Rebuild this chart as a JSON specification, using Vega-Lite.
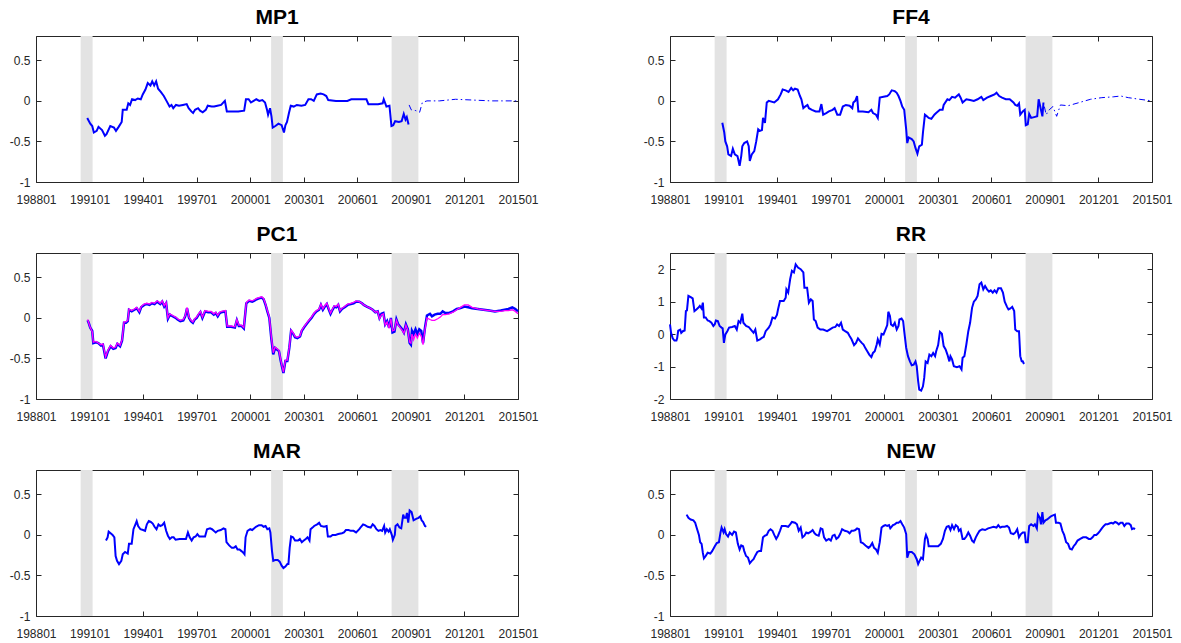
{
  "$schema": "https://vega.github.io/schema/vega-lite/v6.json",
  "background": "white",
  "padding": {"left": 8, "top": 6, "right": 0, "bottom": 0},
  "config": {
    "view": {"stroke": "#262626", "strokeWidth": 1},
    "font": "Liberation Sans",
    "axis": {"domain": false, "grid": false, "tickColor": "#262626", "tickSize": -5, "tickWidth": 1, "labelColor": "#262626", "labelFontSize": 12, "labelFont": "Liberation Sans", "zindex": 1},
    "title": {"fontSize": 21, "fontWeight": "bold", "font": "Liberation Sans", "color": "#000000", "baseline": "alphabetic", "offset": 8, "frame": "group"}
  },
  "datasets": {
    "rec": [{"a": 1990.5, "b": 1991.17}, {"a": 2001.17, "b": 2001.83}, {"a": 2007.92, "b": 2009.42}],
    "MP1": [
      {"t":1990.87,"v":-0.21,"s":"m"},{"t":1991.04,"v":-0.28,"s":"m"},{"t":1991.15,"v":-0.31,"s":"m"},{"t":1991.24,"v":-0.39,"s":"m"},{"t":1991.4,"v":-0.37,"s":"m"},{"t":1991.5,"v":-0.32,"s":"m"},{"t":1991.7,"v":-0.36,"s":"m"},{"t":1991.86,"v":-0.43,"s":"m"},{"t":1991.95,"v":-0.41,"s":"m"},{"t":1992.16,"v":-0.31,"s":"m"},{"t":1992.37,"v":-0.33,"s":"m"},{"t":1992.48,"v":-0.37,"s":"m"},{"t":1992.63,"v":-0.32,"s":"m"},{"t":1992.8,"v":-0.26,"s":"m"},{"t":1992.86,"v":-0.11,"s":"m"},{"t":1993.08,"v":-0.11,"s":"m"},{"t":1993.17,"v":-0.03,"s":"m"},{"t":1993.27,"v":-0.05,"s":"m"},{"t":1993.38,"v":0.02,"s":"m"},{"t":1993.55,"v":0.01,"s":"m"},{"t":1993.7,"v":0.03,"s":"m"},{"t":1993.87,"v":0.02,"s":"m"},{"t":1993.98,"v":0.08,"s":"m"},{"t":1994.13,"v":0.14,"s":"m"},{"t":1994.26,"v":0.22,"s":"m"},{"t":1994.41,"v":0.19,"s":"m"},{"t":1994.51,"v":0.24,"s":"m"},{"t":1994.62,"v":0.19,"s":"m"},{"t":1994.73,"v":0.24,"s":"m"},{"t":1994.84,"v":0.15,"s":"m"},{"t":1994.99,"v":0.11,"s":"m"},{"t":1995.16,"v":0.06,"s":"m"},{"t":1995.31,"v":0.0,"s":"m"},{"t":1995.48,"v":-0.07,"s":"m"},{"t":1995.59,"v":-0.05,"s":"m"},{"t":1995.69,"v":-0.09,"s":"m"},{"t":1995.84,"v":-0.05,"s":"m"},{"t":1996.01,"v":-0.06,"s":"m"},{"t":1996.23,"v":-0.05,"s":"m"},{"t":1996.44,"v":-0.04,"s":"m"},{"t":1996.55,"v":-0.09,"s":"m"},{"t":1996.7,"v":-0.13,"s":"m"},{"t":1996.8,"v":-0.15,"s":"m"},{"t":1996.91,"v":-0.11,"s":"m"},{"t":1997.08,"v":-0.09,"s":"m"},{"t":1997.19,"v":-0.12,"s":"m"},{"t":1997.34,"v":-0.14,"s":"m"},{"t":1997.51,"v":-0.11,"s":"m"},{"t":1997.62,"v":-0.06,"s":"m"},{"t":1997.84,"v":-0.07,"s":"m"},{"t":1997.98,"v":-0.07,"s":"m"},{"t":1998.16,"v":-0.06,"s":"m"},{"t":1998.37,"v":-0.05,"s":"m"},{"t":1998.58,"v":0.0,"s":"m"},{"t":1998.69,"v":-0.13,"s":"m"},{"t":1999.01,"v":-0.13,"s":"m"},{"t":1999.33,"v":-0.13,"s":"m"},{"t":1999.66,"v":-0.12,"s":"m"},{"t":1999.76,"v":0.02,"s":"m"},{"t":1999.91,"v":0.02,"s":"m"},{"t":2000.04,"v":-0.02,"s":"m"},{"t":2000.19,"v":0.0,"s":"m"},{"t":2000.34,"v":0.02,"s":"m"},{"t":2000.51,"v":0.0,"s":"m"},{"t":2000.68,"v":0.01,"s":"m"},{"t":2000.83,"v":-0.02,"s":"m"},{"t":2000.94,"v":-0.11,"s":"m"},{"t":2001.0,"v":-0.17,"s":"m"},{"t":2001.11,"v":-0.09,"s":"m"},{"t":2001.19,"v":-0.19,"s":"m"},{"t":2001.26,"v":-0.33,"s":"m"},{"t":2001.41,"v":-0.31,"s":"m"},{"t":2001.58,"v":-0.28,"s":"m"},{"t":2001.76,"v":-0.3,"s":"m"},{"t":2001.89,"v":-0.39,"s":"m"},{"t":2001.97,"v":-0.3,"s":"m"},{"t":2002.06,"v":-0.26,"s":"m"},{"t":2002.17,"v":-0.15,"s":"m"},{"t":2002.27,"v":-0.06,"s":"m"},{"t":2002.44,"v":-0.07,"s":"m"},{"t":2002.61,"v":-0.05,"s":"m"},{"t":2002.87,"v":-0.06,"s":"m"},{"t":2003.08,"v":-0.05,"s":"m"},{"t":2003.26,"v":0.02,"s":"m"},{"t":2003.41,"v":0.02,"s":"m"},{"t":2003.56,"v":0.0,"s":"m"},{"t":2003.73,"v":0.08,"s":"m"},{"t":2003.94,"v":0.09,"s":"m"},{"t":2004.11,"v":0.08,"s":"m"},{"t":2004.26,"v":0.06,"s":"m"},{"t":2004.37,"v":0.01,"s":"m"},{"t":2004.8,"v":0.0,"s":"m"},{"t":2005.44,"v":0.0,"s":"m"},{"t":2005.66,"v":0.02,"s":"m"},{"t":2006.51,"v":0.02,"s":"m"},{"t":2006.62,"v":-0.04,"s":"m"},{"t":2007.16,"v":-0.04,"s":"m"},{"t":2007.42,"v":-0.03,"s":"m"},{"t":2007.48,"v":0.02,"s":"m"},{"t":2007.63,"v":-0.07,"s":"m"},{"t":2007.8,"v":-0.06,"s":"m"},{"t":2007.91,"v":-0.31,"s":"m"},{"t":2008.01,"v":-0.3,"s":"m"},{"t":2008.12,"v":-0.25,"s":"m"},{"t":2008.33,"v":-0.26,"s":"m"},{"t":2008.48,"v":-0.25,"s":"m"},{"t":2008.6,"v":-0.16,"s":"m"},{"t":2008.7,"v":-0.23,"s":"m"},{"t":2008.77,"v":-0.2,"s":"m"},{"t":2008.87,"v":-0.29,"s":"m"},
      {"t":2008.9,"v":-0.05,"s":"d"},{"t":2009.02,"v":-0.11,"s":"d"},{"t":2009.28,"v":-0.12,"s":"d"},{"t":2009.49,"v":-0.14,"s":"d"},{"t":2009.64,"v":-0.02,"s":"d"},{"t":2009.9,"v":0.0,"s":"d"},{"t":2010.6,"v":0.0,"s":"d"},{"t":2011.5,"v":0.02,"s":"d"},{"t":2012.5,"v":0.01,"s":"d"},{"t":2013.5,"v":0.0,"s":"d"},{"t":2015.0,"v":0.0,"s":"d"}
    ],
    "FF4": [
      {"t":1990.93,"v":-0.27,"s":"m"},{"t":1991.04,"v":-0.39,"s":"m"},{"t":1991.1,"v":-0.5,"s":"m"},{"t":1991.2,"v":-0.56,"s":"m"},{"t":1991.27,"v":-0.66,"s":"m"},{"t":1991.42,"v":-0.68,"s":"m"},{"t":1991.52,"v":-0.59,"s":"m"},{"t":1991.63,"v":-0.66,"s":"m"},{"t":1991.78,"v":-0.68,"s":"m"},{"t":1991.9,"v":-0.8,"s":"m"},{"t":1991.99,"v":-0.68,"s":"m"},{"t":1992.05,"v":-0.56,"s":"m"},{"t":1992.16,"v":-0.52,"s":"m"},{"t":1992.32,"v":-0.5,"s":"m"},{"t":1992.41,"v":-0.56,"s":"m"},{"t":1992.47,"v":-0.74,"s":"m"},{"t":1992.58,"v":-0.66,"s":"m"},{"t":1992.72,"v":-0.62,"s":"m"},{"t":1992.83,"v":-0.5,"s":"m"},{"t":1992.94,"v":-0.35,"s":"m"},{"t":1993.04,"v":-0.37,"s":"m"},{"t":1993.15,"v":-0.36,"s":"m"},{"t":1993.21,"v":-0.21,"s":"m"},{"t":1993.32,"v":-0.27,"s":"m"},{"t":1993.42,"v":-0.02,"s":"m"},{"t":1993.53,"v":0.0,"s":"m"},{"t":1993.84,"v":-0.02,"s":"m"},{"t":1994.05,"v":0.02,"s":"m"},{"t":1994.2,"v":0.08,"s":"m"},{"t":1994.31,"v":0.14,"s":"m"},{"t":1994.48,"v":0.13,"s":"m"},{"t":1994.64,"v":0.11,"s":"m"},{"t":1994.79,"v":0.16,"s":"m"},{"t":1994.9,"v":0.13,"s":"m"},{"t":1995.0,"v":0.15,"s":"m"},{"t":1995.15,"v":0.14,"s":"m"},{"t":1995.28,"v":0.06,"s":"m"},{"t":1995.36,"v":0.02,"s":"m"},{"t":1995.47,"v":-0.09,"s":"m"},{"t":1995.57,"v":-0.07,"s":"m"},{"t":1995.7,"v":-0.05,"s":"m"},{"t":1995.78,"v":-0.09,"s":"m"},{"t":1995.95,"v":-0.11,"s":"m"},{"t":1996.16,"v":-0.13,"s":"m"},{"t":1996.37,"v":-0.13,"s":"m"},{"t":1996.48,"v":-0.04,"s":"m"},{"t":1996.58,"v":-0.17,"s":"m"},{"t":1996.75,"v":-0.15,"s":"m"},{"t":1996.9,"v":-0.13,"s":"m"},{"t":1997.11,"v":-0.11,"s":"m"},{"t":1997.22,"v":-0.09,"s":"m"},{"t":1997.37,"v":-0.17,"s":"m"},{"t":1997.53,"v":-0.17,"s":"m"},{"t":1997.68,"v":-0.07,"s":"m"},{"t":1997.85,"v":-0.05,"s":"m"},{"t":1998.06,"v":-0.06,"s":"m"},{"t":1998.21,"v":-0.09,"s":"m"},{"t":1998.27,"v":-0.02,"s":"m"},{"t":1998.38,"v":0.0,"s":"m"},{"t":1998.48,"v":0.06,"s":"m"},{"t":1998.55,"v":-0.13,"s":"m"},{"t":1998.8,"v":-0.13,"s":"m"},{"t":1999.12,"v":-0.14,"s":"m"},{"t":1999.28,"v":-0.11,"s":"m"},{"t":1999.37,"v":-0.15,"s":"m"},{"t":1999.54,"v":-0.17,"s":"m"},{"t":1999.64,"v":-0.21,"s":"m"},{"t":1999.75,"v":0.04,"s":"m"},{"t":1999.96,"v":0.05,"s":"m"},{"t":2000.17,"v":0.06,"s":"m"},{"t":2000.28,"v":0.08,"s":"m"},{"t":2000.42,"v":0.13,"s":"m"},{"t":2000.59,"v":0.12,"s":"m"},{"t":2000.7,"v":0.1,"s":"m"},{"t":2000.8,"v":0.06,"s":"m"},{"t":2000.91,"v":0.0,"s":"m"},{"t":2001.01,"v":-0.07,"s":"m"},{"t":2001.12,"v":-0.11,"s":"m"},{"t":2001.23,"v":-0.35,"s":"m"},{"t":2001.29,"v":-0.52,"s":"m"},{"t":2001.37,"v":-0.45,"s":"m"},{"t":2001.54,"v":-0.47,"s":"m"},{"t":2001.65,"v":-0.5,"s":"m"},{"t":2001.75,"v":-0.58,"s":"m"},{"t":2001.86,"v":-0.65,"s":"m"},{"t":2001.96,"v":-0.56,"s":"m"},{"t":2002.11,"v":-0.54,"s":"m"},{"t":2002.17,"v":-0.39,"s":"m"},{"t":2002.28,"v":-0.17,"s":"m"},{"t":2002.39,"v":-0.19,"s":"m"},{"t":2002.49,"v":-0.21,"s":"m"},{"t":2002.64,"v":-0.22,"s":"m"},{"t":2002.81,"v":-0.17,"s":"m"},{"t":2002.91,"v":-0.15,"s":"m"},{"t":2003.12,"v":-0.11,"s":"m"},{"t":2003.27,"v":-0.11,"s":"m"},{"t":2003.33,"v":-0.05,"s":"m"},{"t":2003.54,"v":0.02,"s":"m"},{"t":2003.65,"v":0.01,"s":"m"},{"t":2003.8,"v":0.05,"s":"m"},{"t":2003.97,"v":0.04,"s":"m"},{"t":2004.07,"v":0.06,"s":"m"},{"t":2004.18,"v":0.08,"s":"m"},{"t":2004.28,"v":0.04,"s":"m"},{"t":2004.39,"v":-0.02,"s":"m"},{"t":2004.6,"v":0.02,"s":"m"},{"t":2004.81,"v":0.01,"s":"m"},{"t":2005.02,"v":0.0,"s":"m"},{"t":2005.23,"v":0.02,"s":"m"},{"t":2005.44,"v":0.05,"s":"m"},{"t":2005.55,"v":0.01,"s":"m"},{"t":2005.76,"v":0.04,"s":"m"},{"t":2005.97,"v":0.06,"s":"m"},{"t":2006.18,"v":0.08,"s":"m"},{"t":2006.29,"v":0.1,"s":"m"},{"t":2006.44,"v":0.06,"s":"m"},{"t":2006.6,"v":0.04,"s":"m"},{"t":2006.81,"v":0.02,"s":"m"},{"t":2007.03,"v":0.02,"s":"m"},{"t":2007.24,"v":-0.02,"s":"m"},{"t":2007.34,"v":-0.05,"s":"m"},{"t":2007.45,"v":-0.06,"s":"m"},{"t":2007.55,"v":-0.03,"s":"m"},{"t":2007.62,"v":-0.17,"s":"m"},{"t":2007.76,"v":-0.13,"s":"m"},{"t":2007.87,"v":-0.11,"s":"m"},{"t":2007.93,"v":-0.3,"s":"m"},{"t":2008.04,"v":-0.29,"s":"m"},{"t":2008.12,"v":-0.16,"s":"m"},{"t":2008.23,"v":-0.21,"s":"m"},{"t":2008.4,"v":-0.2,"s":"m"},{"t":2008.57,"v":-0.19,"s":"m"},{"t":2008.65,"v":0.02,"s":"m"},{"t":2008.78,"v":-0.11,"s":"m"},{"t":2008.86,"v":-0.19,"s":"m"},{"t":2008.92,"v":-0.02,"s":"m"},
      {"t":2008.97,"v":-0.07,"s":"d"},{"t":2009.07,"v":-0.17,"s":"d"},{"t":2009.24,"v":-0.11,"s":"d"},{"t":2009.45,"v":-0.07,"s":"d"},{"t":2009.66,"v":-0.19,"s":"d"},{"t":2009.87,"v":-0.05,"s":"d"},{"t":2010.3,"v":-0.06,"s":"d"},{"t":2010.93,"v":-0.02,"s":"d"},{"t":2011.56,"v":0.02,"s":"d"},{"t":2012.19,"v":0.04,"s":"d"},{"t":2012.83,"v":0.05,"s":"d"},{"t":2013.25,"v":0.06,"s":"d"},{"t":2013.67,"v":0.04,"s":"d"},{"t":2014.3,"v":0.02,"s":"d"},{"t":2015.0,"v":0.0,"s":"d"}
    ],
    "PC1": [
      {"t":1990.89,"v":-0.03,"s":"b"},{"t":1990.95,"v":-0.06,"s":"b"},{"t":1991.04,"v":-0.12,"s":"b"},{"t":1991.15,"v":-0.16,"s":"b"},{"t":1991.21,"v":-0.31,"s":"b"},{"t":1991.36,"v":-0.3,"s":"b"},{"t":1991.49,"v":-0.31,"s":"b"},{"t":1991.64,"v":-0.34,"s":"b"},{"t":1991.75,"v":-0.33,"s":"b"},{"t":1991.9,"v":-0.5,"s":"b"},{"t":1992.03,"v":-0.41,"s":"b"},{"t":1992.18,"v":-0.35,"s":"b"},{"t":1992.33,"v":-0.38,"s":"b"},{"t":1992.46,"v":-0.37,"s":"b"},{"t":1992.56,"v":-0.32,"s":"b"},{"t":1992.71,"v":-0.35,"s":"b"},{"t":1992.82,"v":-0.28,"s":"b"},{"t":1992.93,"v":-0.06,"s":"b"},{"t":1993.04,"v":-0.06,"s":"b"},{"t":1993.14,"v":-0.04,"s":"b"},{"t":1993.21,"v":0.1,"s":"b"},{"t":1993.36,"v":0.08,"s":"b"},{"t":1993.51,"v":0.1,"s":"b"},{"t":1993.64,"v":0.12,"s":"b"},{"t":1993.79,"v":0.07,"s":"b"},{"t":1993.89,"v":0.13,"s":"b"},{"t":1994.06,"v":0.16,"s":"b"},{"t":1994.21,"v":0.17,"s":"b"},{"t":1994.36,"v":0.16,"s":"b"},{"t":1994.49,"v":0.18,"s":"b"},{"t":1994.64,"v":0.17,"s":"b"},{"t":1994.79,"v":0.2,"s":"b"},{"t":1994.96,"v":0.17,"s":"b"},{"t":1995.07,"v":0.2,"s":"b"},{"t":1995.18,"v":0.14,"s":"b"},{"t":1995.29,"v":0.18,"s":"b"},{"t":1995.39,"v":-0.01,"s":"b"},{"t":1995.5,"v":0.04,"s":"b"},{"t":1995.65,"v":0.02,"s":"b"},{"t":1995.82,"v":0.0,"s":"b"},{"t":1995.93,"v":-0.02,"s":"b"},{"t":1996.08,"v":-0.04,"s":"b"},{"t":1996.25,"v":-0.03,"s":"b"},{"t":1996.36,"v":0.02,"s":"b"},{"t":1996.46,"v":0.12,"s":"b"},{"t":1996.57,"v":0.0,"s":"b"},{"t":1996.68,"v":-0.04,"s":"b"},{"t":1996.79,"v":-0.06,"s":"b"},{"t":1996.89,"v":-0.02,"s":"b"},{"t":1997.0,"v":0.0,"s":"b"},{"t":1997.11,"v":0.04,"s":"b"},{"t":1997.21,"v":0.07,"s":"b"},{"t":1997.32,"v":0.0,"s":"b"},{"t":1997.47,"v":0.08,"s":"b"},{"t":1997.64,"v":0.07,"s":"b"},{"t":1997.81,"v":0.07,"s":"b"},{"t":1997.96,"v":0.04,"s":"b"},{"t":1998.07,"v":0.06,"s":"b"},{"t":1998.18,"v":0.02,"s":"b"},{"t":1998.29,"v":0.06,"s":"b"},{"t":1998.39,"v":0.07,"s":"b"},{"t":1998.61,"v":0.08,"s":"b"},{"t":1998.71,"v":-0.11,"s":"b"},{"t":1998.93,"v":-0.11,"s":"b"},{"t":1999.14,"v":-0.12,"s":"b"},{"t":1999.25,"v":-0.03,"s":"b"},{"t":1999.36,"v":-0.1,"s":"b"},{"t":1999.51,"v":-0.1,"s":"b"},{"t":1999.64,"v":-0.13,"s":"b"},{"t":1999.78,"v":0.18,"s":"b"},{"t":1999.94,"v":0.21,"s":"b"},{"t":2000.11,"v":0.2,"s":"b"},{"t":2000.21,"v":0.21,"s":"b"},{"t":2000.36,"v":0.23,"s":"b"},{"t":2000.49,"v":0.24,"s":"b"},{"t":2000.64,"v":0.25,"s":"b"},{"t":2000.75,"v":0.23,"s":"b"},{"t":2000.86,"v":0.16,"s":"b"},{"t":2000.96,"v":0.08,"s":"b"},{"t":2001.07,"v":0.0,"s":"b"},{"t":2001.18,"v":-0.25,"s":"b"},{"t":2001.29,"v":-0.45,"s":"b"},{"t":2001.39,"v":-0.37,"s":"b"},{"t":2001.5,"v":-0.39,"s":"b"},{"t":2001.61,"v":-0.41,"s":"b"},{"t":2001.71,"v":-0.53,"s":"b"},{"t":2001.86,"v":-0.68,"s":"b"},{"t":2001.97,"v":-0.53,"s":"b"},{"t":2002.08,"v":-0.53,"s":"b"},{"t":2002.19,"v":-0.37,"s":"b"},{"t":2002.29,"v":-0.16,"s":"b"},{"t":2002.42,"v":-0.2,"s":"b"},{"t":2002.51,"v":-0.24,"s":"b"},{"t":2002.64,"v":-0.25,"s":"b"},{"t":2002.79,"v":-0.23,"s":"b"},{"t":2002.89,"v":-0.16,"s":"b"},{"t":2003.04,"v":-0.11,"s":"b"},{"t":2003.21,"v":-0.06,"s":"b"},{"t":2003.32,"v":-0.03,"s":"b"},{"t":2003.43,"v":0.0,"s":"b"},{"t":2003.58,"v":0.05,"s":"b"},{"t":2003.71,"v":0.08,"s":"b"},{"t":2003.86,"v":0.1,"s":"b"},{"t":2003.96,"v":0.16,"s":"b"},{"t":2004.07,"v":0.1,"s":"b"},{"t":2004.18,"v":0.14,"s":"b"},{"t":2004.29,"v":0.17,"s":"b"},{"t":2004.39,"v":0.11,"s":"b"},{"t":2004.5,"v":0.05,"s":"b"},{"t":2004.61,"v":0.1,"s":"b"},{"t":2004.71,"v":0.14,"s":"b"},{"t":2004.82,"v":0.13,"s":"b"},{"t":2004.93,"v":0.16,"s":"b"},{"t":2005.03,"v":0.08,"s":"b"},{"t":2005.14,"v":0.11,"s":"b"},{"t":2005.29,"v":0.13,"s":"b"},{"t":2005.46,"v":0.16,"s":"b"},{"t":2005.63,"v":0.17,"s":"b"},{"t":2005.79,"v":0.18,"s":"b"},{"t":2005.93,"v":0.2,"s":"b"},{"t":2006.11,"v":0.2,"s":"b"},{"t":2006.26,"v":0.18,"s":"b"},{"t":2006.36,"v":0.16,"s":"b"},{"t":2006.53,"v":0.14,"s":"b"},{"t":2006.71,"v":0.12,"s":"b"},{"t":2006.86,"v":0.1,"s":"b"},{"t":2007.01,"v":0.07,"s":"b"},{"t":2007.14,"v":0.08,"s":"b"},{"t":2007.24,"v":0.0,"s":"b"},{"t":2007.35,"v":0.05,"s":"b"},{"t":2007.46,"v":0.06,"s":"b"},{"t":2007.56,"v":-0.08,"s":"b"},{"t":2007.67,"v":-0.04,"s":"b"},{"t":2007.78,"v":-0.12,"s":"b"},{"t":2007.88,"v":0.0,"s":"b"},{"t":2007.97,"v":-0.18,"s":"b"},{"t":2008.08,"v":-0.17,"s":"b"},{"t":2008.19,"v":-0.02,"s":"b"},{"t":2008.29,"v":-0.08,"s":"b"},{"t":2008.4,"v":-0.11,"s":"b"},{"t":2008.51,"v":-0.14,"s":"b"},{"t":2008.61,"v":-0.18,"s":"b"},{"t":2008.72,"v":-0.08,"s":"b"},{"t":2008.83,"v":-0.14,"s":"b"},{"t":2008.93,"v":-0.31,"s":"b"},{"t":2009.0,"v":-0.33,"s":"b"},{"t":2009.06,"v":-0.16,"s":"b"},{"t":2009.15,"v":-0.2,"s":"b"},{"t":2009.26,"v":-0.14,"s":"b"},{"t":2009.36,"v":-0.2,"s":"b"},{"t":2009.47,"v":-0.14,"s":"b"},{"t":2009.58,"v":-0.16,"s":"b"},{"t":2009.68,"v":-0.31,"s":"b"},{"t":2009.79,"v":-0.12,"s":"b"},{"t":2009.9,"v":0.03,"s":"b"},{"t":2010.07,"v":0.05,"s":"b"},{"t":2010.18,"v":0.02,"s":"b"},{"t":2010.33,"v":0.04,"s":"b"},{"t":2010.5,"v":0.05,"s":"b"},{"t":2010.65,"v":0.05,"s":"b"},{"t":2010.78,"v":0.08,"s":"b"},{"t":2010.93,"v":0.06,"s":"b"},{"t":2011.14,"v":0.06,"s":"b"},{"t":2011.36,"v":0.08,"s":"b"},{"t":2011.57,"v":0.11,"s":"b"},{"t":2011.78,"v":0.12,"s":"b"},{"t":2012.0,"v":0.14,"s":"b"},{"t":2012.21,"v":0.13,"s":"b"},{"t":2012.43,"v":0.12,"s":"b"},{"t":2012.75,"v":0.11,"s":"b"},{"t":2013.07,"v":0.1,"s":"b"},{"t":2013.39,"v":0.09,"s":"b"},{"t":2013.71,"v":0.08,"s":"b"},{"t":2014.03,"v":0.09,"s":"b"},{"t":2014.25,"v":0.1,"s":"b"},{"t":2014.46,"v":0.11,"s":"b"},{"t":2014.68,"v":0.13,"s":"b"},{"t":2014.85,"v":0.11,"s":"b"},{"t":2015.0,"v":0.08,"s":"b"},
      {"t":1990.89,"v":-0.02,"s":"p"},{"t":1990.95,"v":-0.06,"s":"p"},{"t":1991.04,"v":-0.12,"s":"p"},{"t":1991.15,"v":-0.17,"s":"p"},{"t":1991.21,"v":-0.3,"s":"p"},{"t":1991.36,"v":-0.29,"s":"p"},{"t":1991.49,"v":-0.31,"s":"p"},{"t":1991.64,"v":-0.33,"s":"p"},{"t":1991.75,"v":-0.32,"s":"p"},{"t":1991.9,"v":-0.48,"s":"p"},{"t":1992.03,"v":-0.4,"s":"p"},{"t":1992.18,"v":-0.34,"s":"p"},{"t":1992.33,"v":-0.37,"s":"p"},{"t":1992.46,"v":-0.36,"s":"p"},{"t":1992.56,"v":-0.31,"s":"p"},{"t":1992.71,"v":-0.34,"s":"p"},{"t":1992.82,"v":-0.27,"s":"p"},{"t":1992.93,"v":-0.05,"s":"p"},{"t":1993.04,"v":-0.05,"s":"p"},{"t":1993.14,"v":-0.03,"s":"p"},{"t":1993.21,"v":0.11,"s":"p"},{"t":1993.36,"v":0.09,"s":"p"},{"t":1993.51,"v":0.11,"s":"p"},{"t":1993.64,"v":0.13,"s":"p"},{"t":1993.79,"v":0.08,"s":"p"},{"t":1993.89,"v":0.14,"s":"p"},{"t":1994.06,"v":0.17,"s":"p"},{"t":1994.21,"v":0.18,"s":"p"},{"t":1994.36,"v":0.17,"s":"p"},{"t":1994.49,"v":0.19,"s":"p"},{"t":1994.64,"v":0.18,"s":"p"},{"t":1994.79,"v":0.21,"s":"p"},{"t":1994.96,"v":0.18,"s":"p"},{"t":1995.07,"v":0.21,"s":"p"},{"t":1995.18,"v":0.15,"s":"p"},{"t":1995.29,"v":0.19,"s":"p"},{"t":1995.39,"v":0.0,"s":"p"},{"t":1995.5,"v":0.05,"s":"p"},{"t":1995.65,"v":0.03,"s":"p"},{"t":1995.82,"v":0.01,"s":"p"},{"t":1995.93,"v":-0.01,"s":"p"},{"t":1996.08,"v":-0.03,"s":"p"},{"t":1996.25,"v":-0.02,"s":"p"},{"t":1996.36,"v":0.03,"s":"p"},{"t":1996.46,"v":0.13,"s":"p"},{"t":1996.57,"v":0.01,"s":"p"},{"t":1996.68,"v":-0.03,"s":"p"},{"t":1996.79,"v":-0.05,"s":"p"},{"t":1996.89,"v":-0.01,"s":"p"},{"t":1997.0,"v":0.01,"s":"p"},{"t":1997.11,"v":0.05,"s":"p"},{"t":1997.21,"v":0.08,"s":"p"},{"t":1997.32,"v":0.01,"s":"p"},{"t":1997.47,"v":0.09,"s":"p"},{"t":1997.64,"v":0.08,"s":"p"},{"t":1997.81,"v":0.08,"s":"p"},{"t":1997.96,"v":0.05,"s":"p"},{"t":1998.07,"v":0.07,"s":"p"},{"t":1998.18,"v":0.03,"s":"p"},{"t":1998.29,"v":0.07,"s":"p"},{"t":1998.39,"v":0.08,"s":"p"},{"t":1998.61,"v":0.09,"s":"p"},{"t":1998.71,"v":-0.1,"s":"p"},{"t":1998.93,"v":-0.1,"s":"p"},{"t":1999.14,"v":-0.11,"s":"p"},{"t":1999.25,"v":-0.02,"s":"p"},{"t":1999.36,"v":-0.09,"s":"p"},{"t":1999.51,"v":-0.09,"s":"p"},{"t":1999.64,"v":-0.12,"s":"p"},{"t":1999.78,"v":0.19,"s":"p"},{"t":1999.94,"v":0.22,"s":"p"},{"t":2000.11,"v":0.21,"s":"p"},{"t":2000.21,"v":0.22,"s":"p"},{"t":2000.36,"v":0.24,"s":"p"},{"t":2000.49,"v":0.25,"s":"p"},{"t":2000.64,"v":0.26,"s":"p"},{"t":2000.75,"v":0.24,"s":"p"},{"t":2000.86,"v":0.17,"s":"p"},{"t":2000.96,"v":0.09,"s":"p"},{"t":2001.07,"v":0.01,"s":"p"},{"t":2001.18,"v":-0.23,"s":"p"},{"t":2001.29,"v":-0.43,"s":"p"},{"t":2001.39,"v":-0.36,"s":"p"},{"t":2001.5,"v":-0.38,"s":"p"},{"t":2001.61,"v":-0.4,"s":"p"},{"t":2001.71,"v":-0.52,"s":"p"},{"t":2001.86,"v":-0.67,"s":"p"},{"t":2001.97,"v":-0.52,"s":"p"},{"t":2002.08,"v":-0.52,"s":"p"},{"t":2002.19,"v":-0.36,"s":"p"},{"t":2002.29,"v":-0.15,"s":"p"},{"t":2002.42,"v":-0.19,"s":"p"},{"t":2002.51,"v":-0.23,"s":"p"},{"t":2002.64,"v":-0.24,"s":"p"},{"t":2002.79,"v":-0.22,"s":"p"},{"t":2002.89,"v":-0.15,"s":"p"},{"t":2003.04,"v":-0.1,"s":"p"},{"t":2003.21,"v":-0.05,"s":"p"},{"t":2003.32,"v":-0.02,"s":"p"},{"t":2003.43,"v":0.01,"s":"p"},{"t":2003.58,"v":0.06,"s":"p"},{"t":2003.71,"v":0.09,"s":"p"},{"t":2003.86,"v":0.11,"s":"p"},{"t":2003.96,"v":0.17,"s":"p"},{"t":2004.07,"v":0.11,"s":"p"},{"t":2004.18,"v":0.15,"s":"p"},{"t":2004.29,"v":0.18,"s":"p"},{"t":2004.39,"v":0.12,"s":"p"},{"t":2004.5,"v":0.06,"s":"p"},{"t":2004.61,"v":0.11,"s":"p"},{"t":2004.71,"v":0.15,"s":"p"},{"t":2004.82,"v":0.14,"s":"p"},{"t":2004.93,"v":0.17,"s":"p"},{"t":2005.03,"v":0.09,"s":"p"},{"t":2005.14,"v":0.12,"s":"p"},{"t":2005.29,"v":0.14,"s":"p"},{"t":2005.46,"v":0.17,"s":"p"},{"t":2005.63,"v":0.18,"s":"p"},{"t":2005.79,"v":0.19,"s":"p"},{"t":2005.93,"v":0.21,"s":"p"},{"t":2006.11,"v":0.2,"s":"p"},{"t":2006.26,"v":0.18,"s":"p"},{"t":2006.36,"v":0.16,"s":"p"},{"t":2006.53,"v":0.14,"s":"p"},{"t":2006.71,"v":0.12,"s":"p"},{"t":2006.86,"v":0.1,"s":"p"},{"t":2007.01,"v":0.07,"s":"p"},{"t":2007.14,"v":0.08,"s":"p"},{"t":2007.24,"v":-0.01,"s":"p"},{"t":2007.35,"v":0.04,"s":"p"},{"t":2007.46,"v":0.05,"s":"p"},{"t":2007.56,"v":-0.09,"s":"p"},{"t":2007.67,"v":-0.05,"s":"p"},{"t":2007.78,"v":-0.13,"s":"p"},{"t":2007.88,"v":-0.01,"s":"p"},{"t":2007.97,"v":-0.16,"s":"p"},{"t":2008.08,"v":-0.15,"s":"p"},{"t":2008.19,"v":-0.03,"s":"p"},{"t":2008.29,"v":-0.09,"s":"p"},{"t":2008.4,"v":-0.12,"s":"p"},{"t":2008.51,"v":-0.15,"s":"p"},{"t":2008.61,"v":-0.19,"s":"p"},{"t":2008.72,"v":-0.09,"s":"p"},{"t":2008.83,"v":-0.15,"s":"p"},{"t":2008.93,"v":-0.3,"s":"p"},{"t":2009.0,"v":-0.31,"s":"p"},{"t":2009.06,"v":-0.2,"s":"p"},{"t":2009.15,"v":-0.27,"s":"p"},{"t":2009.26,"v":-0.2,"s":"p"},{"t":2009.36,"v":-0.25,"s":"p"},{"t":2009.47,"v":-0.19,"s":"p"},{"t":2009.58,"v":-0.22,"s":"p"},{"t":2009.68,"v":-0.33,"s":"p"},{"t":2009.79,"v":-0.14,"s":"p"},{"t":2009.9,"v":0.0,"s":"p"},{"t":2010.07,"v":-0.02,"s":"p"},{"t":2010.18,"v":-0.03,"s":"p"},{"t":2010.33,"v":-0.03,"s":"p"},{"t":2010.5,"v":-0.01,"s":"p"},{"t":2010.65,"v":0.01,"s":"p"},{"t":2010.78,"v":0.04,"s":"p"},{"t":2010.93,"v":0.04,"s":"p"},{"t":2011.14,"v":0.05,"s":"p"},{"t":2011.36,"v":0.07,"s":"p"},{"t":2011.57,"v":0.1,"s":"p"},{"t":2011.78,"v":0.13,"s":"p"},{"t":2012.0,"v":0.16,"s":"p"},{"t":2012.21,"v":0.16,"s":"p"},{"t":2012.43,"v":0.13,"s":"p"},{"t":2012.75,"v":0.11,"s":"p"},{"t":2013.07,"v":0.1,"s":"p"},{"t":2013.39,"v":0.09,"s":"p"},{"t":2013.71,"v":0.08,"s":"p"},{"t":2014.03,"v":0.08,"s":"p"},{"t":2014.25,"v":0.09,"s":"p"},{"t":2014.46,"v":0.09,"s":"p"},{"t":2014.68,"v":0.1,"s":"p"},{"t":2014.85,"v":0.08,"s":"p"},{"t":2015.0,"v":0.05,"s":"p"}
    ],
    "RR": [
      {"t":1988.0,"v":0.3,"s":"m"},{"t":1988.06,"v":0.04,"s":"m"},{"t":1988.15,"v":-0.13,"s":"m"},{"t":1988.25,"v":-0.2,"s":"m"},{"t":1988.36,"v":-0.2,"s":"m"},{"t":1988.4,"v":-0.13,"s":"m"},{"t":1988.46,"v":0.11,"s":"m"},{"t":1988.57,"v":0.14,"s":"m"},{"t":1988.63,"v":0.04,"s":"m"},{"t":1988.72,"v":0.09,"s":"m"},{"t":1988.82,"v":0.11,"s":"m"},{"t":1988.89,"v":0.71,"s":"m"},{"t":1988.95,"v":0.73,"s":"m"},{"t":1989.03,"v":1.18,"s":"m"},{"t":1989.16,"v":1.14,"s":"m"},{"t":1989.27,"v":1.1,"s":"m"},{"t":1989.37,"v":0.71,"s":"m"},{"t":1989.48,"v":0.76,"s":"m"},{"t":1989.58,"v":0.81,"s":"m"},{"t":1989.67,"v":0.87,"s":"m"},{"t":1989.77,"v":0.79,"s":"m"},{"t":1989.84,"v":0.97,"s":"m"},{"t":1989.9,"v":0.51,"s":"m"},{"t":1990.0,"v":0.51,"s":"m"},{"t":1990.11,"v":0.42,"s":"m"},{"t":1990.21,"v":0.4,"s":"m"},{"t":1990.32,"v":0.35,"s":"m"},{"t":1990.43,"v":0.25,"s":"m"},{"t":1990.51,"v":0.3,"s":"m"},{"t":1990.57,"v":0.42,"s":"m"},{"t":1990.68,"v":0.4,"s":"m"},{"t":1990.78,"v":0.25,"s":"m"},{"t":1990.89,"v":0.2,"s":"m"},{"t":1990.95,"v":0.18,"s":"m"},{"t":1991.02,"v":-0.27,"s":"m"},{"t":1991.1,"v":-0.01,"s":"m"},{"t":1991.21,"v":0.09,"s":"m"},{"t":1991.31,"v":0.2,"s":"m"},{"t":1991.48,"v":0.22,"s":"m"},{"t":1991.63,"v":0.25,"s":"m"},{"t":1991.74,"v":0.14,"s":"m"},{"t":1991.84,"v":0.4,"s":"m"},{"t":1991.94,"v":0.35,"s":"m"},{"t":1992.05,"v":0.63,"s":"m"},{"t":1992.11,"v":0.35,"s":"m"},{"t":1992.26,"v":0.25,"s":"m"},{"t":1992.41,"v":0.22,"s":"m"},{"t":1992.53,"v":0.14,"s":"m"},{"t":1992.68,"v":0.04,"s":"m"},{"t":1992.78,"v":0.14,"s":"m"},{"t":1992.89,"v":-0.2,"s":"m"},{"t":1993.04,"v":-0.16,"s":"m"},{"t":1993.17,"v":-0.11,"s":"m"},{"t":1993.25,"v":-0.09,"s":"m"},{"t":1993.36,"v":0.09,"s":"m"},{"t":1993.53,"v":0.2,"s":"m"},{"t":1993.63,"v":0.3,"s":"m"},{"t":1993.74,"v":0.51,"s":"m"},{"t":1993.88,"v":0.48,"s":"m"},{"t":1993.99,"v":0.59,"s":"m"},{"t":1994.05,"v":0.76,"s":"m"},{"t":1994.16,"v":1.02,"s":"m"},{"t":1994.37,"v":1.02,"s":"m"},{"t":1994.48,"v":1.12,"s":"m"},{"t":1994.52,"v":1.38,"s":"m"},{"t":1994.62,"v":1.28,"s":"m"},{"t":1994.73,"v":1.69,"s":"m"},{"t":1994.83,"v":1.95,"s":"m"},{"t":1994.94,"v":1.9,"s":"m"},{"t":1995.04,"v":2.15,"s":"m"},{"t":1995.17,"v":2.05,"s":"m"},{"t":1995.32,"v":2.0,"s":"m"},{"t":1995.47,"v":1.9,"s":"m"},{"t":1995.53,"v":1.43,"s":"m"},{"t":1995.68,"v":1.43,"s":"m"},{"t":1995.78,"v":0.97,"s":"m"},{"t":1995.89,"v":1.07,"s":"m"},{"t":1995.99,"v":1.02,"s":"m"},{"t":1996.06,"v":0.45,"s":"m"},{"t":1996.16,"v":0.4,"s":"m"},{"t":1996.27,"v":0.2,"s":"m"},{"t":1996.42,"v":0.14,"s":"m"},{"t":1996.58,"v":0.14,"s":"m"},{"t":1996.8,"v":0.09,"s":"m"},{"t":1996.94,"v":0.14,"s":"m"},{"t":1997.11,"v":0.2,"s":"m"},{"t":1997.26,"v":0.22,"s":"m"},{"t":1997.36,"v":0.3,"s":"m"},{"t":1997.47,"v":0.25,"s":"m"},{"t":1997.58,"v":0.35,"s":"m"},{"t":1997.68,"v":0.14,"s":"m"},{"t":1997.81,"v":0.09,"s":"m"},{"t":1997.96,"v":0.04,"s":"m"},{"t":1998.06,"v":-0.06,"s":"m"},{"t":1998.17,"v":-0.16,"s":"m"},{"t":1998.31,"v":-0.34,"s":"m"},{"t":1998.42,"v":-0.27,"s":"m"},{"t":1998.53,"v":-0.13,"s":"m"},{"t":1998.63,"v":-0.2,"s":"m"},{"t":1998.74,"v":-0.27,"s":"m"},{"t":1998.84,"v":-0.32,"s":"m"},{"t":1998.95,"v":-0.44,"s":"m"},{"t":1999.05,"v":-0.53,"s":"m"},{"t":1999.16,"v":-0.63,"s":"m"},{"t":1999.28,"v":-0.71,"s":"m"},{"t":1999.37,"v":-0.58,"s":"m"},{"t":1999.47,"v":-0.53,"s":"m"},{"t":1999.58,"v":-0.32,"s":"m"},{"t":1999.64,"v":-0.16,"s":"m"},{"t":1999.75,"v":-0.32,"s":"m"},{"t":1999.85,"v":0.01,"s":"m"},{"t":1999.96,"v":-0.01,"s":"m"},{"t":2000.07,"v":0.14,"s":"m"},{"t":2000.17,"v":0.28,"s":"m"},{"t":2000.23,"v":0.69,"s":"m"},{"t":2000.32,"v":0.56,"s":"m"},{"t":2000.38,"v":0.3,"s":"m"},{"t":2000.49,"v":0.25,"s":"m"},{"t":2000.59,"v":0.35,"s":"m"},{"t":2000.7,"v":0.14,"s":"m"},{"t":2000.8,"v":0.25,"s":"m"},{"t":2000.85,"v":0.45,"s":"m"},{"t":2000.97,"v":0.48,"s":"m"},{"t":2001.06,"v":0.4,"s":"m"},{"t":2001.12,"v":0.09,"s":"m"},{"t":2001.23,"v":-0.42,"s":"m"},{"t":2001.33,"v":-0.68,"s":"m"},{"t":2001.44,"v":-0.84,"s":"m"},{"t":2001.54,"v":-0.96,"s":"m"},{"t":2001.65,"v":-0.94,"s":"m"},{"t":2001.75,"v":-0.84,"s":"m"},{"t":2001.82,"v":-0.99,"s":"m"},{"t":2001.9,"v":-1.45,"s":"m"},{"t":2001.96,"v":-1.71,"s":"m"},{"t":2002.07,"v":-1.74,"s":"m"},{"t":2002.17,"v":-1.61,"s":"m"},{"t":2002.24,"v":-1.35,"s":"m"},{"t":2002.32,"v":-0.84,"s":"m"},{"t":2002.43,"v":-0.89,"s":"m"},{"t":2002.53,"v":-0.63,"s":"m"},{"t":2002.64,"v":-0.68,"s":"m"},{"t":2002.74,"v":-0.58,"s":"m"},{"t":2002.85,"v":-0.68,"s":"m"},{"t":2002.91,"v":-0.53,"s":"m"},{"t":2003.02,"v":-0.34,"s":"m"},{"t":2003.12,"v":0.07,"s":"m"},{"t":2003.23,"v":0.01,"s":"m"},{"t":2003.33,"v":-0.37,"s":"m"},{"t":2003.44,"v":-0.47,"s":"m"},{"t":2003.54,"v":-0.63,"s":"m"},{"t":2003.65,"v":-0.84,"s":"m"},{"t":2003.71,"v":-0.68,"s":"m"},{"t":2003.8,"v":-0.78,"s":"m"},{"t":2003.9,"v":-0.99,"s":"m"},{"t":2004.07,"v":-1.02,"s":"m"},{"t":2004.22,"v":-0.99,"s":"m"},{"t":2004.33,"v":-1.09,"s":"m"},{"t":2004.39,"v":-0.73,"s":"m"},{"t":2004.49,"v":-0.68,"s":"m"},{"t":2004.6,"v":-0.32,"s":"m"},{"t":2004.71,"v":0.09,"s":"m"},{"t":2004.81,"v":0.35,"s":"m"},{"t":2004.92,"v":0.81,"s":"m"},{"t":2005.02,"v":1.0,"s":"m"},{"t":2005.13,"v":1.07,"s":"m"},{"t":2005.23,"v":1.18,"s":"m"},{"t":2005.34,"v":1.54,"s":"m"},{"t":2005.44,"v":1.59,"s":"m"},{"t":2005.55,"v":1.38,"s":"m"},{"t":2005.65,"v":1.48,"s":"m"},{"t":2005.76,"v":1.38,"s":"m"},{"t":2005.87,"v":1.31,"s":"m"},{"t":2005.97,"v":1.35,"s":"m"},{"t":2006.08,"v":1.28,"s":"m"},{"t":2006.18,"v":1.35,"s":"m"},{"t":2006.29,"v":1.28,"s":"m"},{"t":2006.39,"v":1.41,"s":"m"},{"t":2006.54,"v":1.41,"s":"m"},{"t":2006.65,"v":1.28,"s":"m"},{"t":2006.75,"v":1.0,"s":"m"},{"t":2006.88,"v":0.84,"s":"m"},{"t":2006.96,"v":0.76,"s":"m"},{"t":2007.07,"v":0.79,"s":"m"},{"t":2007.17,"v":0.84,"s":"m"},{"t":2007.28,"v":0.71,"s":"m"},{"t":2007.34,"v":0.14,"s":"m"},{"t":2007.45,"v":0.09,"s":"m"},{"t":2007.55,"v":0.09,"s":"m"},{"t":2007.62,"v":-0.68,"s":"m"},{"t":2007.7,"v":-0.84,"s":"m"},{"t":2007.76,"v":-0.84,"s":"m"},{"t":2007.83,"v":-0.92,"s":"m"}
    ],
    "MAR": [
      {"t":1991.92,"v":-0.07,"s":"m"},{"t":1992.01,"v":-0.03,"s":"m"},{"t":1992.07,"v":0.04,"s":"m"},{"t":1992.18,"v":0.02,"s":"m"},{"t":1992.29,"v":0.0,"s":"m"},{"t":1992.39,"v":-0.03,"s":"m"},{"t":1992.46,"v":-0.26,"s":"m"},{"t":1992.54,"v":-0.32,"s":"m"},{"t":1992.65,"v":-0.36,"s":"m"},{"t":1992.78,"v":-0.32,"s":"m"},{"t":1992.86,"v":-0.24,"s":"m"},{"t":1992.99,"v":-0.21,"s":"m"},{"t":1993.14,"v":-0.23,"s":"m"},{"t":1993.21,"v":-0.11,"s":"m"},{"t":1993.36,"v":-0.11,"s":"m"},{"t":1993.46,"v":0.07,"s":"m"},{"t":1993.57,"v":0.13,"s":"m"},{"t":1993.64,"v":0.17,"s":"m"},{"t":1993.72,"v":0.11,"s":"m"},{"t":1993.85,"v":0.07,"s":"m"},{"t":1994.0,"v":0.06,"s":"m"},{"t":1994.11,"v":0.05,"s":"m"},{"t":1994.21,"v":0.13,"s":"m"},{"t":1994.32,"v":0.17,"s":"m"},{"t":1994.43,"v":0.16,"s":"m"},{"t":1994.54,"v":0.14,"s":"m"},{"t":1994.64,"v":0.1,"s":"m"},{"t":1994.75,"v":0.07,"s":"m"},{"t":1994.86,"v":0.13,"s":"m"},{"t":1994.96,"v":0.11,"s":"m"},{"t":1995.07,"v":0.12,"s":"m"},{"t":1995.18,"v":0.15,"s":"m"},{"t":1995.29,"v":0.05,"s":"m"},{"t":1995.39,"v":-0.01,"s":"m"},{"t":1995.5,"v":-0.05,"s":"m"},{"t":1995.61,"v":-0.03,"s":"m"},{"t":1995.71,"v":-0.03,"s":"m"},{"t":1995.82,"v":-0.06,"s":"m"},{"t":1996.04,"v":-0.05,"s":"m"},{"t":1996.25,"v":-0.05,"s":"m"},{"t":1996.4,"v":-0.05,"s":"m"},{"t":1996.51,"v":0.03,"s":"m"},{"t":1996.61,"v":-0.03,"s":"m"},{"t":1996.72,"v":-0.07,"s":"m"},{"t":1996.83,"v":-0.03,"s":"m"},{"t":1996.94,"v":-0.02,"s":"m"},{"t":1997.04,"v":0.01,"s":"m"},{"t":1997.15,"v":-0.02,"s":"m"},{"t":1997.32,"v":-0.02,"s":"m"},{"t":1997.47,"v":-0.02,"s":"m"},{"t":1997.58,"v":0.07,"s":"m"},{"t":1997.75,"v":0.08,"s":"m"},{"t":1997.86,"v":0.07,"s":"m"},{"t":1997.96,"v":0.05,"s":"m"},{"t":1998.07,"v":0.03,"s":"m"},{"t":1998.18,"v":0.05,"s":"m"},{"t":1998.35,"v":0.06,"s":"m"},{"t":1998.5,"v":0.08,"s":"m"},{"t":1998.61,"v":0.07,"s":"m"},{"t":1998.67,"v":-0.09,"s":"m"},{"t":1998.82,"v":-0.13,"s":"m"},{"t":1998.97,"v":-0.16,"s":"m"},{"t":1999.08,"v":-0.16,"s":"m"},{"t":1999.19,"v":-0.14,"s":"m"},{"t":1999.29,"v":-0.18,"s":"m"},{"t":1999.4,"v":-0.18,"s":"m"},{"t":1999.51,"v":-0.2,"s":"m"},{"t":1999.61,"v":-0.22,"s":"m"},{"t":1999.68,"v":-0.24,"s":"m"},{"t":1999.74,"v":-0.03,"s":"m"},{"t":1999.85,"v":0.05,"s":"m"},{"t":2000.0,"v":0.07,"s":"m"},{"t":2000.11,"v":0.06,"s":"m"},{"t":2000.21,"v":0.08,"s":"m"},{"t":2000.32,"v":0.1,"s":"m"},{"t":2000.49,"v":0.12,"s":"m"},{"t":2000.64,"v":0.12,"s":"m"},{"t":2000.75,"v":0.1,"s":"m"},{"t":2000.86,"v":0.11,"s":"m"},{"t":2000.96,"v":0.07,"s":"m"},{"t":2001.07,"v":0.08,"s":"m"},{"t":2001.13,"v":0.03,"s":"m"},{"t":2001.22,"v":-0.2,"s":"m"},{"t":2001.29,"v":-0.32,"s":"m"},{"t":2001.39,"v":-0.31,"s":"m"},{"t":2001.54,"v":-0.31,"s":"m"},{"t":2001.65,"v":-0.33,"s":"m"},{"t":2001.76,"v":-0.38,"s":"m"},{"t":2001.86,"v":-0.41,"s":"m"},{"t":2001.97,"v":-0.39,"s":"m"},{"t":2002.08,"v":-0.36,"s":"m"},{"t":2002.14,"v":-0.36,"s":"m"},{"t":2002.21,"v":-0.16,"s":"m"},{"t":2002.29,"v":-0.02,"s":"m"},{"t":2002.4,"v":-0.03,"s":"m"},{"t":2002.51,"v":-0.07,"s":"m"},{"t":2002.68,"v":-0.07,"s":"m"},{"t":2002.78,"v":-0.05,"s":"m"},{"t":2002.89,"v":-0.09,"s":"m"},{"t":2003.0,"v":-0.07,"s":"m"},{"t":2003.11,"v":-0.05,"s":"m"},{"t":2003.21,"v":-0.03,"s":"m"},{"t":2003.32,"v":-0.07,"s":"m"},{"t":2003.38,"v":0.07,"s":"m"},{"t":2003.49,"v":0.09,"s":"m"},{"t":2003.58,"v":0.11,"s":"m"},{"t":2003.75,"v":0.13,"s":"m"},{"t":2003.86,"v":0.15,"s":"m"},{"t":2003.96,"v":0.11,"s":"m"},{"t":2004.13,"v":0.1,"s":"m"},{"t":2004.28,"v":0.11,"s":"m"},{"t":2004.35,"v":-0.02,"s":"m"},{"t":2004.5,"v":-0.02,"s":"m"},{"t":2004.61,"v":0.0,"s":"m"},{"t":2004.78,"v":0.0,"s":"m"},{"t":2004.93,"v":0.01,"s":"m"},{"t":2005.14,"v":0.02,"s":"m"},{"t":2005.25,"v":0.03,"s":"m"},{"t":2005.36,"v":0.06,"s":"m"},{"t":2005.51,"v":0.06,"s":"m"},{"t":2005.63,"v":0.05,"s":"m"},{"t":2005.79,"v":0.05,"s":"m"},{"t":2005.93,"v":0.03,"s":"m"},{"t":2006.11,"v":0.07,"s":"m"},{"t":2006.21,"v":0.1,"s":"m"},{"t":2006.32,"v":0.13,"s":"m"},{"t":2006.43,"v":0.12,"s":"m"},{"t":2006.58,"v":0.1,"s":"m"},{"t":2006.75,"v":0.09,"s":"m"},{"t":2006.86,"v":0.13,"s":"m"},{"t":2006.96,"v":0.11,"s":"m"},{"t":2007.07,"v":0.07,"s":"m"},{"t":2007.18,"v":0.05,"s":"m"},{"t":2007.29,"v":0.06,"s":"m"},{"t":2007.39,"v":0.05,"s":"m"},{"t":2007.5,"v":0.11,"s":"m"},{"t":2007.56,"v":0.03,"s":"m"},{"t":2007.65,"v":0.07,"s":"m"},{"t":2007.75,"v":0.04,"s":"m"},{"t":2007.82,"v":0.07,"s":"m"},{"t":2007.93,"v":0.0,"s":"m"},{"t":2007.99,"v":-0.06,"s":"m"},{"t":2008.1,"v":0.0,"s":"m"},{"t":2008.14,"v":0.11,"s":"m"},{"t":2008.25,"v":0.13,"s":"m"},{"t":2008.36,"v":0.09,"s":"m"},{"t":2008.46,"v":0.08,"s":"m"},{"t":2008.57,"v":0.25,"s":"m"},{"t":2008.63,"v":0.21,"s":"m"},{"t":2008.72,"v":0.21,"s":"m"},{"t":2008.78,"v":0.27,"s":"m"},{"t":2008.85,"v":0.15,"s":"m"},{"t":2008.93,"v":0.3,"s":"m"},{"t":2009.04,"v":0.28,"s":"m"},{"t":2009.15,"v":0.18,"s":"m"},{"t":2009.32,"v":0.2,"s":"m"},{"t":2009.43,"v":0.21,"s":"m"},{"t":2009.53,"v":0.23,"s":"m"},{"t":2009.6,"v":0.18,"s":"m"},{"t":2009.68,"v":0.16,"s":"m"},{"t":2009.79,"v":0.11,"s":"m"},{"t":2009.86,"v":0.1,"s":"m"}
    ],
    "NEW": [
      {"t":1988.93,"v":0.25,"s":"m"},{"t":1989.03,"v":0.21,"s":"m"},{"t":1989.16,"v":0.19,"s":"m"},{"t":1989.31,"v":0.18,"s":"m"},{"t":1989.41,"v":0.15,"s":"m"},{"t":1989.52,"v":0.07,"s":"m"},{"t":1989.62,"v":0.0,"s":"m"},{"t":1989.69,"v":-0.09,"s":"m"},{"t":1989.77,"v":-0.11,"s":"m"},{"t":1989.84,"v":-0.22,"s":"m"},{"t":1989.9,"v":-0.29,"s":"m"},{"t":1990.0,"v":-0.26,"s":"m"},{"t":1990.11,"v":-0.22,"s":"m"},{"t":1990.26,"v":-0.23,"s":"m"},{"t":1990.36,"v":-0.2,"s":"m"},{"t":1990.51,"v":-0.14,"s":"m"},{"t":1990.62,"v":-0.1,"s":"m"},{"t":1990.74,"v":-0.09,"s":"m"},{"t":1990.83,"v":0.03,"s":"m"},{"t":1990.89,"v":0.09,"s":"m"},{"t":1991.0,"v":0.03,"s":"m"},{"t":1991.06,"v":0.07,"s":"m"},{"t":1991.14,"v":0.01,"s":"m"},{"t":1991.25,"v":-0.02,"s":"m"},{"t":1991.35,"v":0.03,"s":"m"},{"t":1991.48,"v":0.0,"s":"m"},{"t":1991.59,"v":0.04,"s":"m"},{"t":1991.69,"v":0.03,"s":"m"},{"t":1991.8,"v":-0.11,"s":"m"},{"t":1991.9,"v":-0.18,"s":"m"},{"t":1991.99,"v":-0.13,"s":"m"},{"t":1992.09,"v":-0.14,"s":"m"},{"t":1992.16,"v":-0.2,"s":"m"},{"t":1992.26,"v":-0.26,"s":"m"},{"t":1992.37,"v":-0.28,"s":"m"},{"t":1992.47,"v":-0.35,"s":"m"},{"t":1992.58,"v":-0.32,"s":"m"},{"t":1992.68,"v":-0.3,"s":"m"},{"t":1992.79,"v":-0.25,"s":"m"},{"t":1992.89,"v":-0.21,"s":"m"},{"t":1993.0,"v":-0.2,"s":"m"},{"t":1993.1,"v":-0.2,"s":"m"},{"t":1993.21,"v":-0.03,"s":"m"},{"t":1993.32,"v":-0.01,"s":"m"},{"t":1993.42,"v":0.0,"s":"m"},{"t":1993.53,"v":0.05,"s":"m"},{"t":1993.63,"v":0.07,"s":"m"},{"t":1993.74,"v":0.05,"s":"m"},{"t":1993.84,"v":0.0,"s":"m"},{"t":1993.95,"v":-0.05,"s":"m"},{"t":1994.05,"v":-0.01,"s":"m"},{"t":1994.16,"v":0.05,"s":"m"},{"t":1994.26,"v":0.11,"s":"m"},{"t":1994.48,"v":0.11,"s":"m"},{"t":1994.62,"v":0.1,"s":"m"},{"t":1994.73,"v":0.13,"s":"m"},{"t":1994.83,"v":0.16,"s":"m"},{"t":1995.0,"v":0.15,"s":"m"},{"t":1995.11,"v":0.13,"s":"m"},{"t":1995.21,"v":0.05,"s":"m"},{"t":1995.32,"v":0.09,"s":"m"},{"t":1995.42,"v":-0.03,"s":"m"},{"t":1995.53,"v":-0.01,"s":"m"},{"t":1995.63,"v":0.03,"s":"m"},{"t":1995.74,"v":0.02,"s":"m"},{"t":1995.89,"v":0.04,"s":"m"},{"t":1995.99,"v":0.06,"s":"m"},{"t":1996.1,"v":0.02,"s":"m"},{"t":1996.2,"v":0.0,"s":"m"},{"t":1996.33,"v":-0.01,"s":"m"},{"t":1996.44,"v":0.08,"s":"m"},{"t":1996.54,"v":0.07,"s":"m"},{"t":1996.63,"v":-0.03,"s":"m"},{"t":1996.75,"v":-0.07,"s":"m"},{"t":1996.9,"v":-0.05,"s":"m"},{"t":1997.01,"v":-0.07,"s":"m"},{"t":1997.11,"v":-0.01,"s":"m"},{"t":1997.22,"v":0.0,"s":"m"},{"t":1997.32,"v":-0.05,"s":"m"},{"t":1997.43,"v":-0.03,"s":"m"},{"t":1997.53,"v":0.01,"s":"m"},{"t":1997.64,"v":0.07,"s":"m"},{"t":1997.79,"v":0.05,"s":"m"},{"t":1997.96,"v":0.04,"s":"m"},{"t":1998.06,"v":0.02,"s":"m"},{"t":1998.17,"v":0.05,"s":"m"},{"t":1998.27,"v":0.05,"s":"m"},{"t":1998.38,"v":0.06,"s":"m"},{"t":1998.48,"v":0.08,"s":"m"},{"t":1998.59,"v":0.07,"s":"m"},{"t":1998.69,"v":-0.09,"s":"m"},{"t":1998.8,"v":-0.1,"s":"m"},{"t":1998.95,"v":-0.13,"s":"m"},{"t":1999.12,"v":-0.16,"s":"m"},{"t":1999.22,"v":-0.14,"s":"m"},{"t":1999.33,"v":-0.1,"s":"m"},{"t":1999.43,"v":-0.16,"s":"m"},{"t":1999.54,"v":-0.18,"s":"m"},{"t":1999.64,"v":-0.22,"s":"m"},{"t":1999.75,"v":-0.09,"s":"m"},{"t":1999.85,"v":0.09,"s":"m"},{"t":1999.96,"v":0.11,"s":"m"},{"t":2000.06,"v":0.12,"s":"m"},{"t":2000.17,"v":0.11,"s":"m"},{"t":2000.27,"v":0.12,"s":"m"},{"t":2000.34,"v":0.08,"s":"m"},{"t":2000.49,"v":0.12,"s":"m"},{"t":2000.59,"v":0.13,"s":"m"},{"t":2000.7,"v":0.15,"s":"m"},{"t":2000.8,"v":0.15,"s":"m"},{"t":2000.91,"v":0.17,"s":"m"},{"t":2001.01,"v":0.13,"s":"m"},{"t":2001.12,"v":0.09,"s":"m"},{"t":2001.23,"v":0.01,"s":"m"},{"t":2001.29,"v":-0.28,"s":"m"},{"t":2001.39,"v":-0.21,"s":"m"},{"t":2001.54,"v":-0.21,"s":"m"},{"t":2001.69,"v":-0.24,"s":"m"},{"t":2001.82,"v":-0.3,"s":"m"},{"t":2001.9,"v":-0.36,"s":"m"},{"t":2001.98,"v":-0.32,"s":"m"},{"t":2002.07,"v":-0.28,"s":"m"},{"t":2002.17,"v":-0.3,"s":"m"},{"t":2002.28,"v":-0.05,"s":"m"},{"t":2002.34,"v":0.0,"s":"m"},{"t":2002.43,"v":-0.05,"s":"m"},{"t":2002.49,"v":-0.14,"s":"m"},{"t":2002.64,"v":-0.14,"s":"m"},{"t":2002.81,"v":-0.14,"s":"m"},{"t":2003.02,"v":-0.14,"s":"m"},{"t":2003.17,"v":-0.11,"s":"m"},{"t":2003.29,"v":-0.05,"s":"m"},{"t":2003.4,"v":0.05,"s":"m"},{"t":2003.5,"v":0.1,"s":"m"},{"t":2003.61,"v":0.11,"s":"m"},{"t":2003.71,"v":0.06,"s":"m"},{"t":2003.8,"v":0.12,"s":"m"},{"t":2003.91,"v":0.07,"s":"m"},{"t":2004.01,"v":0.12,"s":"m"},{"t":2004.12,"v":0.1,"s":"m"},{"t":2004.18,"v":0.05,"s":"m"},{"t":2004.28,"v":0.07,"s":"m"},{"t":2004.39,"v":-0.05,"s":"m"},{"t":2004.49,"v":-0.05,"s":"m"},{"t":2004.6,"v":-0.02,"s":"m"},{"t":2004.71,"v":0.03,"s":"m"},{"t":2004.81,"v":-0.01,"s":"m"},{"t":2004.92,"v":-0.07,"s":"m"},{"t":2005.02,"v":-0.09,"s":"m"},{"t":2005.13,"v":-0.03,"s":"m"},{"t":2005.23,"v":0.01,"s":"m"},{"t":2005.34,"v":0.05,"s":"m"},{"t":2005.49,"v":0.07,"s":"m"},{"t":2005.65,"v":0.06,"s":"m"},{"t":2005.82,"v":0.08,"s":"m"},{"t":2005.97,"v":0.09,"s":"m"},{"t":2006.12,"v":0.1,"s":"m"},{"t":2006.29,"v":0.09,"s":"m"},{"t":2006.39,"v":0.12,"s":"m"},{"t":2006.5,"v":0.09,"s":"m"},{"t":2006.6,"v":0.1,"s":"m"},{"t":2006.75,"v":0.1,"s":"m"},{"t":2006.88,"v":0.11,"s":"m"},{"t":2006.99,"v":0.09,"s":"m"},{"t":2007.09,"v":0.02,"s":"m"},{"t":2007.24,"v":0.01,"s":"m"},{"t":2007.35,"v":0.03,"s":"m"},{"t":2007.45,"v":0.07,"s":"m"},{"t":2007.55,"v":-0.03,"s":"m"},{"t":2007.66,"v":0.01,"s":"m"},{"t":2007.76,"v":0.03,"s":"m"},{"t":2007.87,"v":0.03,"s":"m"},{"t":2007.93,"v":-0.09,"s":"m"},{"t":2008.04,"v":-0.09,"s":"m"},{"t":2008.12,"v":0.11,"s":"m"},{"t":2008.23,"v":0.13,"s":"m"},{"t":2008.36,"v":0.11,"s":"m"},{"t":2008.44,"v":0.13,"s":"m"},{"t":2008.55,"v":0.08,"s":"m"},{"t":2008.61,"v":0.25,"s":"m"},{"t":2008.72,"v":0.21,"s":"m"},{"t":2008.78,"v":0.13,"s":"m"},{"t":2008.86,"v":0.28,"s":"m"},{"t":2008.92,"v":0.15,"s":"m"},{"t":2009.03,"v":0.18,"s":"m"},{"t":2009.13,"v":0.19,"s":"m"},{"t":2009.24,"v":0.21,"s":"m"},{"t":2009.34,"v":0.23,"s":"m"},{"t":2009.45,"v":0.24,"s":"m"},{"t":2009.56,"v":0.25,"s":"m"},{"t":2009.62,"v":0.15,"s":"m"},{"t":2009.77,"v":0.15,"s":"m"},{"t":2009.87,"v":0.14,"s":"m"},{"t":2009.98,"v":0.05,"s":"m"},{"t":2010.08,"v":0.0,"s":"m"},{"t":2010.19,"v":-0.09,"s":"m"},{"t":2010.3,"v":-0.11,"s":"m"},{"t":2010.4,"v":-0.17,"s":"m"},{"t":2010.51,"v":-0.18,"s":"m"},{"t":2010.61,"v":-0.14,"s":"m"},{"t":2010.72,"v":-0.11,"s":"m"},{"t":2010.83,"v":-0.07,"s":"m"},{"t":2010.98,"v":-0.05,"s":"m"},{"t":2011.14,"v":-0.03,"s":"m"},{"t":2011.31,"v":-0.03,"s":"m"},{"t":2011.46,"v":-0.05,"s":"m"},{"t":2011.56,"v":-0.05,"s":"m"},{"t":2011.67,"v":-0.03,"s":"m"},{"t":2011.77,"v":0.0,"s":"m"},{"t":2011.88,"v":0.0,"s":"m"},{"t":2011.98,"v":0.02,"s":"m"},{"t":2012.09,"v":0.05,"s":"m"},{"t":2012.19,"v":0.08,"s":"m"},{"t":2012.3,"v":0.11,"s":"m"},{"t":2012.4,"v":0.13,"s":"m"},{"t":2012.51,"v":0.13,"s":"m"},{"t":2012.61,"v":0.14,"s":"m"},{"t":2012.72,"v":0.15,"s":"m"},{"t":2012.82,"v":0.14,"s":"m"},{"t":2012.93,"v":0.16,"s":"m"},{"t":2013.03,"v":0.15,"s":"m"},{"t":2013.14,"v":0.13,"s":"m"},{"t":2013.24,"v":0.15,"s":"m"},{"t":2013.35,"v":0.15,"s":"m"},{"t":2013.45,"v":0.11,"s":"m"},{"t":2013.56,"v":0.14,"s":"m"},{"t":2013.7,"v":0.14,"s":"m"},{"t":2013.81,"v":0.12,"s":"m"},{"t":2013.88,"v":0.07,"s":"m"},{"t":2013.98,"v":0.08,"s":"m"},{"t":2014.05,"v":0.07,"s":"m"}
    ]
  },
  "concat": [
    {
      "title": "MP1", "width": 482, "height": 146,
      "layer": [
        {"data": {"name": "rec"}, "mark": {"type": "rect", "color": "#e3e3e3"},
         "encoding": {
           "x": {"field": "a", "type": "quantitative", "scale": {"domain": [1988, 2015], "nice": false, "zero": false}, "axis": {"orient": "top", "values": [1988,1991,1994,1997,2000,2003,2006,2009,2012,2015], "labels": false, "title": null}},
           "x2": {"field": "b"},
           "y": {"datum": -1, "type": "quantitative", "scale": {"domain": [-1, 0.8], "nice": false, "zero": false}, "axis": {"orient": "right", "values": [-1,-0.5,0,0.5], "labels": false, "title": null}},
           "y2": {"datum": 0.8}}},
        {"data": {"name": "MP1"}, "transform": [{"filter": "datum.s == 'm'"}], "mark": {"type": "line", "color": "#0000ff", "strokeWidth": 2},
         "encoding": {
           "x": {"field": "t", "type": "quantitative", "scale": {"domain": [1988, 2015], "nice": false, "zero": false}, "axis": {"orient": "bottom", "values": [1988,1991,1994,1997,2000,2003,2006,2009,2012,2015], "labelExpr": "toString(datum.value) + '01'", "labelFlush": false, "labelOverlap": false, "labelPadding": 17, "title": null}},
           "y": {"field": "v", "type": "quantitative", "scale": {"domain": [-1, 0.8], "nice": false, "zero": false}, "axis": {"orient": "left", "values": [-1,-0.5,0,0.5], "labelExpr": "toString(datum.value)", "labelPadding": 11, "title": null}}}},
        {"data": {"name": "MP1"}, "transform": [{"filter": "datum.s == 'd'"}], "mark": {"type": "line", "color": "#0000ff", "strokeWidth": 1, "strokeDash": [6, 3, 1.5, 3]},
         "encoding": {
           "x": {"field": "t", "type": "quantitative", "scale": {"domain": [1988, 2015], "nice": false, "zero": false}, "axis": null},
           "y": {"field": "v", "type": "quantitative", "scale": {"domain": [-1, 0.8], "nice": false, "zero": false}, "axis": null}}}
      ],
      "resolve": {"axis": {"x": "independent", "y": "independent"}}
    },
    {
      "title": "FF4", "width": 482, "height": 146,
      "layer": [
        {"data": {"name": "rec"}, "mark": {"type": "rect", "color": "#e3e3e3"},
         "encoding": {
           "x": {"field": "a", "type": "quantitative", "scale": {"domain": [1988, 2015], "nice": false, "zero": false}, "axis": {"orient": "top", "values": [1988,1991,1994,1997,2000,2003,2006,2009,2012,2015], "labels": false, "title": null}},
           "x2": {"field": "b"},
           "y": {"datum": -1, "type": "quantitative", "scale": {"domain": [-1, 0.8], "nice": false, "zero": false}, "axis": {"orient": "right", "values": [-1,-0.5,0,0.5], "labels": false, "title": null}},
           "y2": {"datum": 0.8}}},
        {"data": {"name": "FF4"}, "transform": [{"filter": "datum.s == 'm'"}], "mark": {"type": "line", "color": "#0000ff", "strokeWidth": 2},
         "encoding": {
           "x": {"field": "t", "type": "quantitative", "scale": {"domain": [1988, 2015], "nice": false, "zero": false}, "axis": {"orient": "bottom", "values": [1988,1991,1994,1997,2000,2003,2006,2009,2012,2015], "labelExpr": "toString(datum.value) + '01'", "labelFlush": false, "labelOverlap": false, "labelPadding": 17, "title": null}},
           "y": {"field": "v", "type": "quantitative", "scale": {"domain": [-1, 0.8], "nice": false, "zero": false}, "axis": {"orient": "left", "values": [-1,-0.5,0,0.5], "labelExpr": "toString(datum.value)", "labelPadding": 11, "title": null}}}},
        {"data": {"name": "FF4"}, "transform": [{"filter": "datum.s == 'd'"}], "mark": {"type": "line", "color": "#0000ff", "strokeWidth": 1, "strokeDash": [6, 3, 1.5, 3]},
         "encoding": {
           "x": {"field": "t", "type": "quantitative", "scale": {"domain": [1988, 2015], "nice": false, "zero": false}, "axis": null},
           "y": {"field": "v", "type": "quantitative", "scale": {"domain": [-1, 0.8], "nice": false, "zero": false}, "axis": null}}}
      ],
      "resolve": {"axis": {"x": "independent", "y": "independent"}}
    },
    {
      "title": "PC1", "width": 482, "height": 146,
      "layer": [
        {"data": {"name": "rec"}, "mark": {"type": "rect", "color": "#e3e3e3"},
         "encoding": {
           "x": {"field": "a", "type": "quantitative", "scale": {"domain": [1988, 2015], "nice": false, "zero": false}, "axis": {"orient": "top", "values": [1988,1991,1994,1997,2000,2003,2006,2009,2012,2015], "labels": false, "title": null}},
           "x2": {"field": "b"},
           "y": {"datum": -1, "type": "quantitative", "scale": {"domain": [-1, 0.8], "nice": false, "zero": false}, "axis": {"orient": "right", "values": [-1,-0.5,0,0.5], "labels": false, "title": null}},
           "y2": {"datum": 0.8}}},
        {"data": {"name": "PC1"}, "transform": [{"filter": "datum.s == 'b'"}], "mark": {"type": "line", "color": "#0000ff", "strokeWidth": 2.5},
         "encoding": {
           "x": {"field": "t", "type": "quantitative", "scale": {"domain": [1988, 2015], "nice": false, "zero": false}, "axis": {"orient": "bottom", "values": [1988,1991,1994,1997,2000,2003,2006,2009,2012,2015], "labelExpr": "toString(datum.value) + '01'", "labelFlush": false, "labelOverlap": false, "labelPadding": 17, "title": null}},
           "y": {"field": "v", "type": "quantitative", "scale": {"domain": [-1, 0.8], "nice": false, "zero": false}, "axis": {"orient": "left", "values": [-1,-0.5,0,0.5], "labelExpr": "toString(datum.value)", "labelPadding": 11, "title": null}}}},
        {"data": {"name": "PC1"}, "transform": [{"filter": "datum.s == 'p'"}], "mark": {"type": "line", "color": "#ff00ff", "strokeWidth": 1.3},
         "encoding": {
           "x": {"field": "t", "type": "quantitative", "scale": {"domain": [1988, 2015], "nice": false, "zero": false}, "axis": null},
           "y": {"field": "v", "type": "quantitative", "scale": {"domain": [-1, 0.8], "nice": false, "zero": false}, "axis": null}}}
      ],
      "resolve": {"axis": {"x": "independent", "y": "independent"}}
    },
    {
      "title": "RR", "width": 482, "height": 146,
      "layer": [
        {"data": {"name": "rec"}, "mark": {"type": "rect", "color": "#e3e3e3"},
         "encoding": {
           "x": {"field": "a", "type": "quantitative", "scale": {"domain": [1988, 2015], "nice": false, "zero": false}, "axis": {"orient": "top", "values": [1988,1991,1994,1997,2000,2003,2006,2009,2012,2015], "labels": false, "title": null}},
           "x2": {"field": "b"},
           "y": {"datum": -2, "type": "quantitative", "scale": {"domain": [-2, 2.5], "nice": false, "zero": false}, "axis": {"orient": "right", "values": [-2,-1,0,1,2], "labels": false, "title": null}},
           "y2": {"datum": 2.5}}},
        {"data": {"name": "RR"}, "mark": {"type": "line", "color": "#0000ff", "strokeWidth": 2},
         "encoding": {
           "x": {"field": "t", "type": "quantitative", "scale": {"domain": [1988, 2015], "nice": false, "zero": false}, "axis": {"orient": "bottom", "values": [1988,1991,1994,1997,2000,2003,2006,2009,2012,2015], "labelExpr": "toString(datum.value) + '01'", "labelFlush": false, "labelOverlap": false, "labelPadding": 17, "title": null}},
           "y": {"field": "v", "type": "quantitative", "scale": {"domain": [-2, 2.5], "nice": false, "zero": false}, "axis": {"orient": "left", "values": [-2,-1,0,1,2], "labelExpr": "toString(datum.value)", "labelPadding": 11, "title": null}}}}
      ],
      "resolve": {"axis": {"x": "independent", "y": "independent"}}
    },
    {
      "title": "MAR", "width": 482, "height": 146,
      "layer": [
        {"data": {"name": "rec"}, "mark": {"type": "rect", "color": "#e3e3e3"},
         "encoding": {
           "x": {"field": "a", "type": "quantitative", "scale": {"domain": [1988, 2015], "nice": false, "zero": false}, "axis": {"orient": "top", "values": [1988,1991,1994,1997,2000,2003,2006,2009,2012,2015], "labels": false, "title": null}},
           "x2": {"field": "b"},
           "y": {"datum": -1, "type": "quantitative", "scale": {"domain": [-1, 0.8], "nice": false, "zero": false}, "axis": {"orient": "right", "values": [-1,-0.5,0,0.5], "labels": false, "title": null}},
           "y2": {"datum": 0.8}}},
        {"data": {"name": "MAR"}, "mark": {"type": "line", "color": "#0000ff", "strokeWidth": 2},
         "encoding": {
           "x": {"field": "t", "type": "quantitative", "scale": {"domain": [1988, 2015], "nice": false, "zero": false}, "axis": {"orient": "bottom", "values": [1988,1991,1994,1997,2000,2003,2006,2009,2012,2015], "labelExpr": "toString(datum.value) + '01'", "labelFlush": false, "labelOverlap": false, "labelPadding": 17, "title": null}},
           "y": {"field": "v", "type": "quantitative", "scale": {"domain": [-1, 0.8], "nice": false, "zero": false}, "axis": {"orient": "left", "values": [-1,-0.5,0,0.5], "labelExpr": "toString(datum.value)", "labelPadding": 11, "title": null}}}}
      ],
      "resolve": {"axis": {"x": "independent", "y": "independent"}}
    },
    {
      "title": "NEW", "width": 482, "height": 146,
      "layer": [
        {"data": {"name": "rec"}, "mark": {"type": "rect", "color": "#e3e3e3"},
         "encoding": {
           "x": {"field": "a", "type": "quantitative", "scale": {"domain": [1988, 2015], "nice": false, "zero": false}, "axis": {"orient": "top", "values": [1988,1991,1994,1997,2000,2003,2006,2009,2012,2015], "labels": false, "title": null}},
           "x2": {"field": "b"},
           "y": {"datum": -1, "type": "quantitative", "scale": {"domain": [-1, 0.8], "nice": false, "zero": false}, "axis": {"orient": "right", "values": [-1,-0.5,0,0.5], "labels": false, "title": null}},
           "y2": {"datum": 0.8}}},
        {"data": {"name": "NEW"}, "mark": {"type": "line", "color": "#0000ff", "strokeWidth": 2},
         "encoding": {
           "x": {"field": "t", "type": "quantitative", "scale": {"domain": [1988, 2015], "nice": false, "zero": false}, "axis": {"orient": "bottom", "values": [1988,1991,1994,1997,2000,2003,2006,2009,2012,2015], "labelExpr": "toString(datum.value) + '01'", "labelFlush": false, "labelOverlap": false, "labelPadding": 17, "title": null}},
           "y": {"field": "v", "type": "quantitative", "scale": {"domain": [-1, 0.8], "nice": false, "zero": false}, "axis": {"orient": "left", "values": [-1,-0.5,0,0.5], "labelExpr": "toString(datum.value)", "labelPadding": 11, "title": null}}}}
      ],
      "resolve": {"axis": {"x": "independent", "y": "independent"}}
    }
  ],
  "columns": 2,
  "spacing": {"row": 71, "column": 152},
  "bounds": "flush"
}
